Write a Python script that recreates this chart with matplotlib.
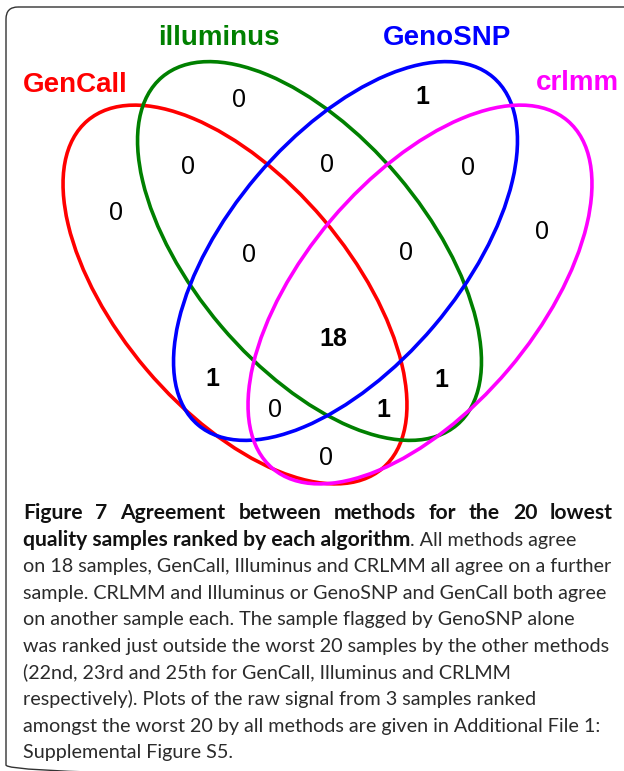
import matplotlib
matplotlib.use("Agg")
import matplotlib.pyplot as plt
from matplotlib.patches import Ellipse, FancyBboxPatch

set_names = ["GenCall", "illuminus", "GenoSNP", "crlmm"]
set_colors = ["#ff0000", "#008000", "#0000ff", "#ff00ff"]

# membership code per region (GenCall, illuminus, GenoSNP, crlmm) and sample counts
regions = ["1000", "0100", "0010", "0001", "1100", "0110", "0011", "1010",
           "0101", "1001", "1110", "0111", "1011", "1101", "1111"]
counts = [0, 0, 1, 0, 0, 0, 0, 1, 1, 0, 0, 0, 0, 1, 18]

caption_bold = ["Figure 7 Agreement between methods for the 20 lowest",
                "quality samples ranked by each algorithm"]
caption_rest = [". All methods agree",
                "on 18 samples, GenCall, Illuminus and CRLMM all agree on a further",
                "sample. CRLMM and Illuminus or GenoSNP and GenCall both agree",
                "on another sample each. The sample flagged by GenoSNP alone",
                "was ranked just outside the worst 20 samples by the other methods",
                "(22nd, 23rd and 25th for GenCall, Illuminus and CRLMM",
                "respectively). Plots of the raw signal from 3 samples ranked",
                "amongst the worst 20 by all methods are given in Additional File 1:",
                "Supplemental Figure S5."]

# layout, in pixels of the 624x771 canvas
ell_centers = [(235, 294.5), (309.5, 251), (345.5, 251), (420, 294.5)]
ell_angles = [49.7, 49.7, -49.7, -49.7]
ell_w, ell_h = 456, 232
label_pos = [(75.5, 92), (219, 45), (447, 45), (577, 90)]
region_pos = {"1000": (116, 211), "0100": (239, 98), "0010": (422, 95),
              "0001": (542, 230), "1100": (188, 165), "0110": (327, 163),
              "0011": (468, 166), "1010": (212, 377), "0101": (441, 378),
              "1001": (326, 456), "1110": (249, 253), "0111": (406, 251),
              "1011": (275, 408), "1101": (383, 408), "1111": (333, 337)}

venn_font = ["Liberation Sans", "DejaVu Sans"]
cap_font = ["Lato", "DejaVu Sans"]
cap_size = 14.2
bold_size = 15.2
cap_color = "#2b2b2b"

fig = plt.figure(figsize=(6.24, 7.71), dpi=100)
ax = fig.add_axes([0, 0, 1, 1])
ax.set_xlim(0, 624)
ax.set_ylim(771, 0)
ax.axis("off")

ax.add_patch(FancyBboxPatch((6, 7), 650, 770, boxstyle="round,pad=0,rounding_size=12",
                            fc="none", ec="#333333", lw=1))

for c, a, col in zip(ell_centers, ell_angles, set_colors):
    ax.add_patch(Ellipse(c, ell_w, ell_h, angle=a, fill=False, ec=col, lw=2.6))

for name, col, (x, y) in zip(set_names, set_colors, label_pos):
    ax.text(x, y, name, color=col, fontsize=20, fontweight="bold", family=venn_font,
            ha="center", va="baseline")

for reg, n in zip(regions, counts):
    x, y = region_pos[reg]
    ax.text(x, y + 9, str(n), fontsize=18, family=venn_font, ha="center", va="baseline",
            fontweight="bold" if n > 0 else "normal", color="black")

r = fig.canvas.get_renderer()

# first caption line is justified across the column
words = caption_bold[0].split()
texts = [ax.text(23, 519, w, fontsize=bold_size, family=cap_font, fontweight="bold",
                 color="#111111", va="baseline") for w in words]
widths = [t.get_window_extent(r).width for t in texts]
gap = (613 - 23 - sum(widths)) / (len(words) - 1)
x = 23
for t, w in zip(texts, widths):
    t.set_x(x)
    x += w + gap

y = 519 + 26.6
t1 = ax.text(23, y, caption_bold[1], fontsize=bold_size, family=cap_font, fontweight="bold",
             color="#111111", va="baseline")
w1 = t1.get_window_extent(r).width
ax.text(23 + w1, y, caption_rest[0], fontsize=cap_size, family=cap_font, color=cap_color,
        va="baseline")
for i, line in enumerate(caption_rest[1:]):
    ax.text(23, y + 26.6 * (i + 1), line, fontsize=cap_size, family=cap_font,
            color=cap_color, va="baseline")

fig.savefig("out.png", dpi=100)
